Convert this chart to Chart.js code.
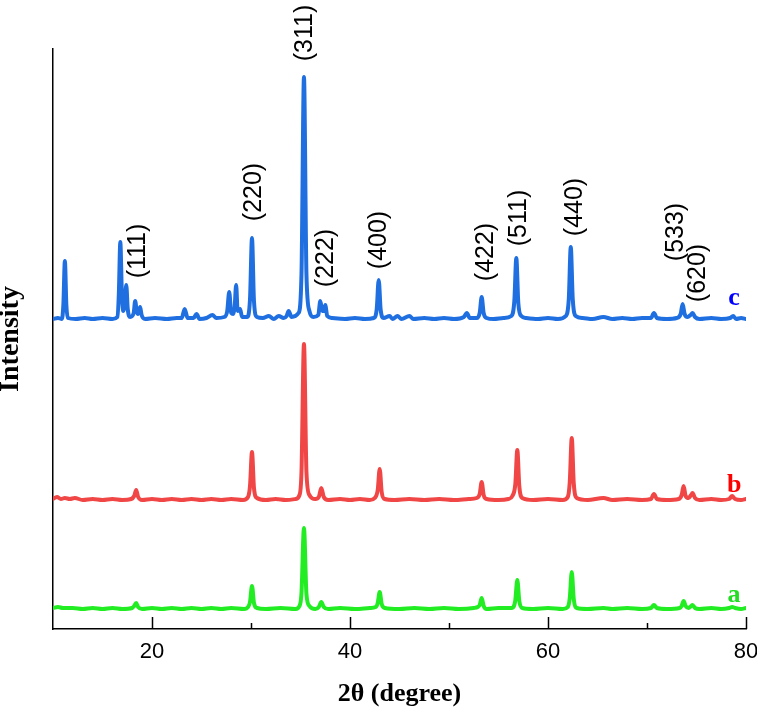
<!DOCTYPE html>
<html>
<head>
<meta charset="utf-8">
<script src="https://cdn.jsdelivr.net/npm/chart.js@4.4.1/dist/chart.umd.min.js"></script>
<style>
  html, body { margin: 0; padding: 0; background: #ffffff; }
  #wrap { width: 757px; height: 713px; }
</style>
</head>
<body>
<div id="wrap"><canvas id="xrd" width="757" height="713"></canvas></div>
<script>
// ---------- DATA ----------
const seriesNames = ['a', 'b', 'c'];
const seriesOffset = [20, 129, 310];

const thetaA = [10.0,10.5,11.0,12,13,14,15,16,17,18.0,18.2,18.4,18.6,19,20,21,22,23,24,25,26,27,28,29.3,29.7,29.9,30.1,30.3,30.6,31.5,33,34.5,34.9,35.1,35.35,35.6,35.9,36.5,36.85,37.1,37.35,37.8,39,40.5,42,42.6,42.8,43.0,43.2,43.5,45,46.5,48,49.5,51,52.5,52.9,53.1,53.3,53.5,53.8,55,56.3,56.6,56.7,56.9,57.1,57.4,58.5,60,61.5,62.0,62.2,62.4,62.6,62.9,64,65.6,66.5,68,69.5,70.4,70.7,71.0,72,73.3,73.5,73.7,73.9,74.2,74.45,74.6,74.85,75.3,76.5,77.5,78.3,78.6,78.9,79.5,80];
const intA   = [1,2,1,1,0,1,0,1,0,1,3,6,2,0,1,0,1,0,1,0,1,0,1,0,2,7,23,6,1,0,1,0,3,16,81,15,3,0,2,7,2,0,1,0,1,2,6,17,5,1,0,1,0,1,0,1,2,4,11,3,0,1,1,4,9,29,8,1,0,1,0,2,11,37,10,1,0,1,0,1,0,1,4,1,0,1,3,8,3,1,3,4,1,0,1,0,1,2,1,0,1];

const thetaB = [10.0,10.4,10.8,11.2,11.7,12.2,13,14,15,16,17,17.9,18.2,18.4,18.6,19.0,20,21,22,23,24,25,26,27,28,29.2,29.7,29.9,30.1,30.3,30.6,31.5,32.5,33.5,34.5,34.9,35.1,35.35,35.6,35.9,36.5,36.85,37.1,37.35,37.8,39,40,41,42,42.5,42.8,43.0,43.2,43.5,44.5,46,47.5,49,50.5,52,52.8,53.1,53.3,53.5,53.8,55,56,56.4,56.7,56.9,57.1,57.4,58.5,60,61.5,62.0,62.2,62.4,62.6,62.9,64,65.6,66.5,68,69.5,70.4,70.7,71.0,72,73.2,73.5,73.7,73.9,74.2,74.45,74.6,74.85,75.3,76.5,77.5,78.3,78.6,78.9,79.5,80];
const intB   = [1,3,1,2,1,2,0,1,0,1,0,1,4,10,3,0,1,0,1,0,1,0,1,0,1,0,3,14,48,12,2,0,1,0,1,5,28,156,28,5,1,3,12,3,0,1,0,1,0,2,10,31,8,1,0,1,0,1,0,1,2,6,18,5,1,0,1,4,16,50,14,2,0,1,0,3,18,62,17,2,0,2,0,1,0,1,6,1,0,1,5,14,4,2,5,7,2,0,1,0,1,4,1,0,1];

const thetaC = [10.0,10.5,10.9,11.05,11.2,11.35,11.5,12.3,13.2,14.0,15.0,16.0,16.5,16.65,16.8,16.95,17.1,17.25,17.4,17.55,17.8,18.15,18.3,18.45,18.6,18.8,18.95,19.3,20.3,21.5,22.5,23.0,23.3,23.6,24.2,24.5,24.8,25.5,26.1,26.5,27.3,27.6,27.8,28.0,28.2,28.35,28.5,28.65,28.9,29.1,29.6,29.9,30.1,30.3,30.6,31.2,31.8,32.3,32.8,33.3,33.6,33.8,34.1,34.8,35.1,35.35,35.6,35.9,36.3,36.8,37.0,37.2,37.35,37.5,37.7,38.2,39.5,40.5,41.5,42.4,42.7,42.9,43.1,43.4,44.0,44.3,44.8,45.2,46.0,46.4,47.5,48.5,49.5,50.5,51.5,51.8,52.1,52.8,53.1,53.3,53.5,53.8,54.5,55.5,56.3,56.6,56.8,57.0,57.3,57.8,59.0,60.0,61.0,61.8,62.1,62.3,62.5,62.8,63.5,64.5,65.6,66.5,67.5,68.5,69.5,70.4,70.7,71.0,72.0,73.0,73.4,73.6,73.8,74.1,74.4,74.6,74.85,75.3,76.5,77.5,78.4,78.7,79.0,79.5,80.0];
const intC   = [0,1,0,15,58,14,1,0,1,0,1,0,2,25,77,28,8,14,34,10,2,6,18,8,5,12,4,0,1,0,1,1,10,1,1,5,0,1,4,1,2,8,27,6,5,12,34,8,10,2,2,20,81,18,2,1,3,0,3,1,3,8,2,6,45,242,45,8,2,4,18,8,8,14,3,1,0,1,0,1,10,39,9,1,3,0,3,0,3,0,1,0,1,0,2,6,1,1,6,22,6,1,0,1,3,18,61,16,3,1,0,1,0,3,20,72,20,3,1,0,2,0,1,0,1,1,6,1,0,1,5,15,5,2,4,6,2,0,1,0,1,3,0,1,0];

const xTickValues = [20, 40, 60, 80];

const hklText  = ['(111)', '(220)', '(311)', '(222)', '(400)', '(422)', '(511)', '(440)', '(533)', '(620)'];
const hklTheta = [18.6, 30.3, 35.45, 37.6, 42.9, 53.7, 57.1, 62.7, 72.9, 75.15];
const hklLevel = [378, 437, 596, 371, 389, 377, 411, 422, 397, 356];

const sampleLabelTheta = 78.8;
const sampleLabelLevel = [27, 137, 324];

// ---------- STYLE ----------
const lineColors  = ['#22ec22', '#f04646', '#1f6fe0'];
const labelColors = ['#22dd22', '#ff0000', '#0000ff'];

function buildPoints(th, it, off) {
  return th.map((t, i) => ({ x: t, y: it[i] + off }));
}
const thetas = [thetaA, thetaB, thetaC];
const ints = [intA, intB, intC];

const datasets = seriesNames.map((n, k) => ({
  label: n,
  data: buildPoints(thetas[k], ints[k], seriesOffset[k]),
  borderColor: lineColors[k],
  borderWidth: 4,
  pointRadius: 0,
  fill: false,
  cubicInterpolationMode: 'monotone',
  borderJoinStyle: 'round',
  borderCapStyle: 'round'
}));

const annotate = {
  id: 'annotate',
  afterDraw(chart) {
    const ctx = chart.ctx;
    const xs = chart.scales.x, ys = chart.scales.y;
    // inward tick marks
    ctx.save();
    ctx.strokeStyle = '#000';
    ctx.lineWidth = 1.5;
    const y0 = chart.chartArea.bottom;
    xs.ticks.forEach(t => {
      if (t.value <= xs.min) return;
      const len = (t.value % 20 === 0) ? 12 : 6;
      const px = Math.round(xs.getPixelForValue(t.value)) + 0.5;
      ctx.beginPath();
      ctx.moveTo(px, y0);
      ctx.lineTo(px, y0 - len);
      ctx.stroke();
    });
    ctx.restore();
    // hkl labels (rotated)
    ctx.save();
    ctx.fillStyle = '#000';
    ctx.font = '25px "Liberation Sans", Arial, sans-serif';
    ctx.textAlign = 'center';
    ctx.textBaseline = 'middle';
    hklText.forEach((s, i) => {
      const px = xs.getPixelForValue(hklTheta[i]);
      const py = ys.getPixelForValue(hklLevel[i]);
      ctx.save();
      ctx.translate(px, py);
      ctx.rotate(-Math.PI / 2);
      ctx.fillText(s, 0, 0);
      ctx.restore();
    });
    ctx.restore();
    // sample labels
    ctx.save();
    ctx.font = 'bold 26px "Liberation Serif", "Times New Roman", serif';
    ctx.textAlign = 'center';
    ctx.textBaseline = 'alphabetic';
    seriesNames.forEach((n, k) => {
      ctx.fillStyle = labelColors[k];
      ctx.fillText(n, xs.getPixelForValue(sampleLabelTheta), ys.getPixelForValue(sampleLabelLevel[k]));
    });
    ctx.restore();
  }
};

new Chart(document.getElementById('xrd'), {
  type: 'line',
  data: { datasets },
  options: {
    responsive: false,
    animation: false,
    events: [],
    layout: { padding: { top: 49, right: 11, bottom: 0, left: 0 } },
    plugins: { legend: { display: false }, tooltip: { enabled: false } },
    scales: {
      x: {
        type: 'linear',
        min: 10, max: 80,
        afterFit: s => { s.height = 84; s.paddingRight = 0; s.paddingLeft = 0; },
        border: { display: true, color: '#000', width: 1.5 },
        grid: { display: false, drawTicks: false },
        ticks: {
          stepSize: 10,
          autoSkip: false,
          maxRotation: 0,
          padding: 10,
          color: '#000',
          font: { family: '"Liberation Sans", Arial, sans-serif', size: 22 },
          callback: v => (xTickValues.includes(v) ? String(v) : '')
        },
        title: {
          display: true,
          text: '2θ (degree)',
          color: '#000',
          font: { family: '"Liberation Serif", "Times New Roman", serif', size: 26, weight: 'bold', lineHeight: 1.2 },
          padding: { top: 0, bottom: 3 }
        }
      },
      y: {
        type: 'linear',
        min: 0, max: 580,
        afterFit: s => { s.width = 53; s.paddingTop = 0; s.paddingBottom = 0; },
        border: { display: true, color: '#000', width: 1.5 },
        grid: { display: false, drawTicks: false },
        ticks: { display: false },
        title: {
          display: true,
          text: 'Intensity',
          color: '#000',
          font: { family: '"Liberation Serif", "Times New Roman", serif', size: 28, weight: 'bold', lineHeight: 0.8 },
          padding: { top: 0, bottom: 0 }
        }
      }
    }
  },
  plugins: [annotate]
});
</script>
</body>
</html>
